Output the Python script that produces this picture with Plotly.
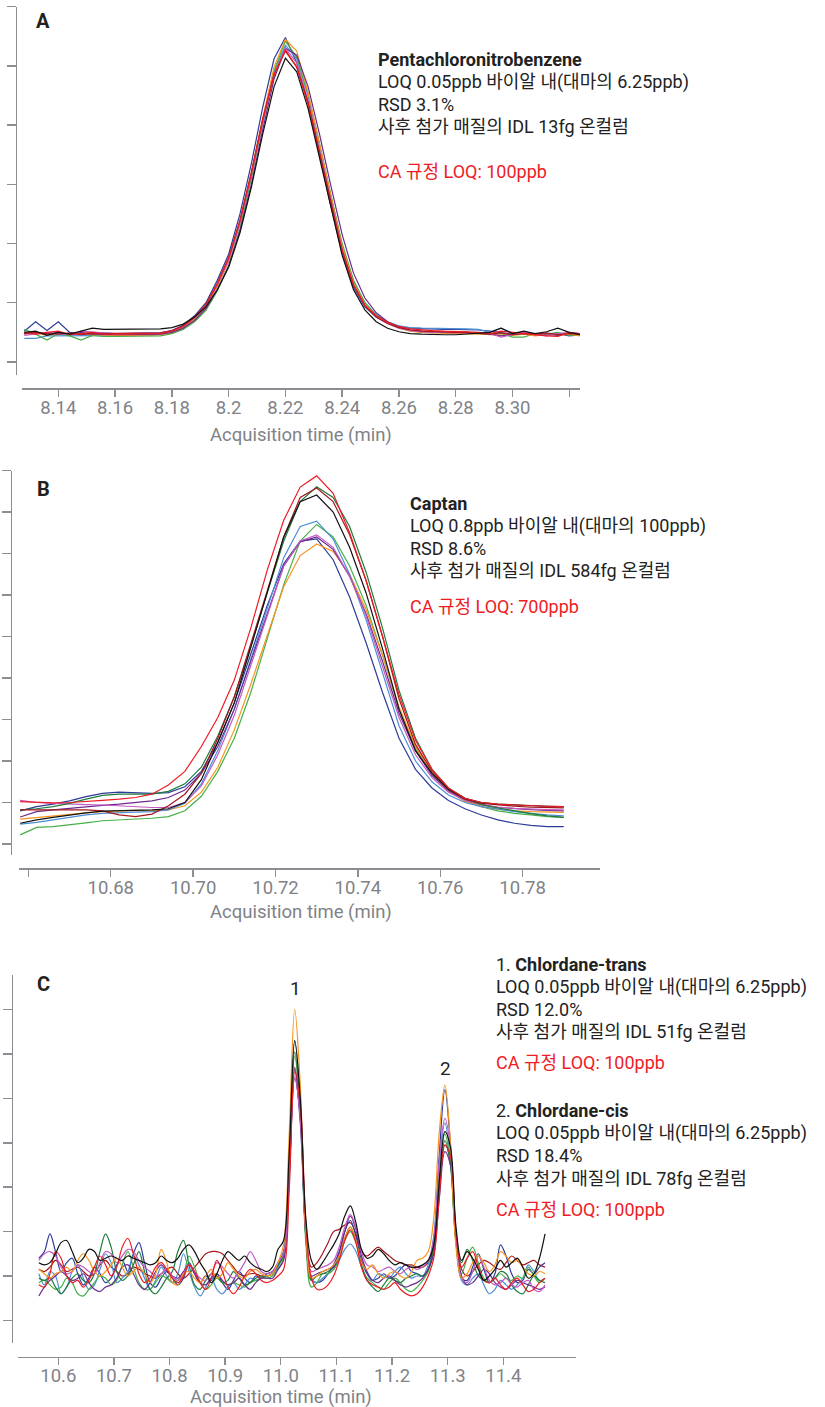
import plotly.graph_objects as go

# ---------------- DATA ----------------
COLORS = {"navy": "#2e3b98", "lightblue": "#4c8fd6", "green": "#45b045", "darkgreen": "#1e7b3c",
          "purple": "#6d2a8c", "magenta": "#c35bc3", "red": "#ec1c24", "darkred": "#a3181d",
          "orange": "#f7941d", "black": "#111111"}

# Panel A: Pentachloronitrobenzene
TIME_A = [8.128, 8.132, 8.136, 8.140, 8.144, 8.148, 8.152, 8.156, 8.160, 8.164,
          8.168, 8.172, 8.176, 8.180, 8.184, 8.188, 8.192, 8.196, 8.200, 8.204,
          8.208, 8.212, 8.216, 8.220, 8.224, 8.228, 8.232, 8.236, 8.240, 8.244,
          8.248, 8.252, 8.256, 8.260, 8.264, 8.268, 8.272, 8.276, 8.280, 8.284,
          8.288, 8.292, 8.296, 8.300, 8.304, 8.308, 8.312, 8.316, 8.320, 8.324]
navy_A = [0.52, 0.68, 0.53, 0.68, 0.50, 0.47, 0.49, 0.48, 0.48, 0.48,
          0.48, 0.48, 0.49, 0.53, 0.62, 0.78, 1.00, 1.38, 1.82, 2.50,
          3.35, 4.30, 5.12, 5.48, 5.05, 4.38, 3.52, 2.64, 1.84, 1.26,
          0.93, 0.76, 0.66, 0.60, 0.57, 0.56, 0.56, 0.55, 0.55, 0.55,
          0.54, 0.52, 0.50, 0.47, 0.50, 0.46, 0.45, 0.48, 0.44, 0.46]
orange_A = [0.47, 0.49, 0.45, 0.49, 0.47, 0.48, 0.46, 0.45, 0.45, 0.45,
            0.45, 0.45, 0.46, 0.50, 0.57, 0.72, 0.92, 1.27, 1.70, 2.36,
            3.20, 4.12, 4.98, 5.45, 5.25, 4.55, 3.68, 2.78, 1.95, 1.33,
            0.97, 0.77, 0.65, 0.57, 0.52, 0.50, 0.49, 0.48, 0.48, 0.48,
            0.47, 0.47, 0.46, 0.45, 0.47, 0.44, 0.46, 0.45, 0.47, 0.44]
green_A = [0.55, 0.47, 0.37, 0.48, 0.44, 0.37, 0.45, 0.43, 0.43, 0.43,
           0.43, 0.43, 0.44, 0.48, 0.55, 0.68, 0.87, 1.20, 1.62, 2.25,
           3.10, 4.05, 4.92, 5.42, 5.15, 4.52, 3.70, 2.82, 2.00, 1.38,
           1.00, 0.79, 0.66, 0.58, 0.53, 0.51, 0.50, 0.49, 0.49, 0.48,
           0.48, 0.46, 0.48, 0.42, 0.42, 0.48, 0.47, 0.50, 0.45, 0.47]
lightblue_A = [0.40, 0.40, 0.44, 0.44, 0.44, 0.44, 0.45, 0.45, 0.45, 0.45,
               0.45, 0.45, 0.46, 0.50, 0.58, 0.73, 0.93, 1.28, 1.70, 2.33,
               3.15, 4.05, 4.90, 5.35, 5.12, 4.50, 3.65, 2.78, 1.97, 1.36,
               1.00, 0.80, 0.68, 0.61, 0.58, 0.57, 0.57, 0.56, 0.56, 0.56,
               0.55, 0.50, 0.57, 0.49, 0.50, 0.47, 0.46, 0.47, 0.46, 0.45]
purple_A = [0.48, 0.50, 0.47, 0.50, 0.46, 0.50, 0.47, 0.46, 0.46, 0.46,
            0.46, 0.46, 0.47, 0.50, 0.57, 0.70, 0.90, 1.22, 1.62, 2.22,
            3.00, 3.92, 4.78, 5.30, 5.18, 4.65, 3.85, 2.98, 2.15, 1.50,
            1.08, 0.83, 0.68, 0.59, 0.54, 0.52, 0.51, 0.50, 0.50, 0.50,
            0.49, 0.47, 0.44, 0.47, 0.49, 0.46, 0.48, 0.45, 0.49, 0.48]
magenta_A = [0.45, 0.47, 0.50, 0.48, 0.46, 0.52, 0.50, 0.49, 0.48, 0.48,
             0.48, 0.48, 0.49, 0.52, 0.60, 0.75, 0.95, 1.30, 1.72, 2.35,
             3.15, 4.05, 4.85, 5.30, 5.05, 4.42, 3.58, 2.70, 1.90, 1.30,
             0.95, 0.76, 0.65, 0.57, 0.53, 0.51, 0.50, 0.49, 0.49, 0.49,
             0.48, 0.48, 0.42, 0.46, 0.50, 0.47, 0.44, 0.48, 0.50, 0.47]
red_A = [0.50, 0.47, 0.50, 0.52, 0.46, 0.48, 0.50, 0.47, 0.47, 0.47,
         0.47, 0.47, 0.48, 0.52, 0.60, 0.75, 0.96, 1.32, 1.75, 2.38,
         3.18, 4.08, 4.85, 5.27, 4.98, 4.35, 3.50, 2.65, 1.88, 1.30,
         0.96, 0.78, 0.67, 0.60, 0.56, 0.54, 0.53, 0.52, 0.52, 0.51,
         0.50, 0.48, 0.52, 0.50, 0.47, 0.46, 0.44, 0.43, 0.50, 0.48]
darkred_A = [0.48, 0.50, 0.48, 0.47, 0.49, 0.46, 0.48, 0.48, 0.48, 0.48,
             0.48, 0.48, 0.49, 0.53, 0.61, 0.76, 0.97, 1.33, 1.76, 2.40,
             3.20, 4.10, 4.85, 5.25, 4.98, 4.38, 3.55, 2.68, 1.88, 1.30,
             0.95, 0.76, 0.65, 0.58, 0.54, 0.52, 0.51, 0.50, 0.50, 0.50,
             0.49, 0.47, 0.49, 0.46, 0.48, 0.47, 0.49, 0.46, 0.48, 0.47]
black_A = [0.50, 0.52, 0.45, 0.50, 0.47, 0.52, 0.57, 0.55, 0.55, 0.55,
           0.55, 0.55, 0.56, 0.58, 0.64, 0.76, 0.93, 1.22, 1.60, 2.18,
           2.95, 3.85, 4.65, 5.13, 4.90, 4.28, 3.45, 2.60, 1.80, 1.22,
           0.88, 0.68, 0.57, 0.51, 0.48, 0.47, 0.46, 0.46, 0.46, 0.47,
           0.48, 0.50, 0.57, 0.48, 0.52, 0.48, 0.51, 0.57, 0.50, 0.46]
SERIES_A = {"navy": navy_A, "lightblue": lightblue_A, "green": green_A, "orange": orange_A,
            "purple": purple_A, "magenta": magenta_A, "darkred": darkred_A, "red": red_A, "black": black_A}

# Panel B: Captan
TIME_B = [10.658, 10.662, 10.666, 10.670, 10.674, 10.678, 10.682, 10.686, 10.690, 10.694,
          10.698, 10.702, 10.706, 10.710, 10.714, 10.718, 10.722, 10.726, 10.730, 10.734,
          10.738, 10.742, 10.746, 10.750, 10.754, 10.758, 10.762, 10.766, 10.770, 10.774,
          10.778, 10.782, 10.786, 10.790]
red_B = [1.02, 1.00, 0.99, 1.00, 1.02, 1.05, 1.08, 1.12, 1.20, 1.42,
         1.75, 2.35, 3.05, 3.95, 5.20, 6.60, 7.80, 8.60, 8.87, 8.45,
         7.50, 6.35, 5.00, 3.60, 2.50, 1.80, 1.35, 1.10, 1.00, 0.96,
         0.94, 0.92, 0.91, 0.90]
darkred_B = [0.82, 0.82, 0.82, 0.82, 0.82, 0.80, 0.70, 0.66, 0.72, 0.92,
             1.20, 1.70, 2.55, 3.55, 4.80, 6.10, 7.40, 8.35, 8.58, 8.25,
             7.45, 6.35, 5.00, 3.50, 2.40, 1.75, 1.32, 1.08, 0.98, 0.94,
             0.91, 0.89, 0.88, 0.87]
darkgreen_B = [0.82, 0.85, 0.90, 0.98, 1.08, 1.17, 1.20, 1.20, 1.20, 1.27,
               1.45, 1.85, 2.60, 3.55, 4.75, 6.05, 7.30, 8.25, 8.61, 8.35,
               7.65, 6.55, 5.20, 3.70, 2.55, 1.80, 1.35, 1.10, 0.95, 0.87,
               0.80, 0.73, 0.68, 0.64]
black_B = [0.50, 0.58, 0.64, 0.70, 0.75, 0.79, 0.80, 0.81, 0.82, 0.85,
           1.00, 1.55, 2.45, 3.40, 4.75, 6.05, 7.40, 8.25, 8.41, 8.00,
           7.15, 6.05, 4.70, 3.25, 2.25, 1.70, 1.32, 1.10, 1.00, 0.96,
           0.94, 0.92, 0.91, 0.90]
lightblue_B = [0.48, 0.52, 0.58, 0.64, 0.70, 0.74, 0.76, 0.77, 0.78, 0.82,
               0.98, 1.45, 2.25, 3.25, 4.45, 5.70, 6.90, 7.65, 7.78, 7.35,
               6.50, 5.40, 4.10, 2.85, 2.00, 1.50, 1.18, 1.00, 0.90, 0.84,
               0.78, 0.74, 0.70, 0.68]
green_B = [0.22, 0.40, 0.42, 0.46, 0.51, 0.56, 0.58, 0.60, 0.62, 0.66,
           0.80, 1.15, 1.75, 2.55, 3.65, 4.95, 6.25, 7.30, 7.70, 7.40,
           6.70, 5.75, 4.55, 3.25, 2.30, 1.70, 1.30, 1.05, 0.90, 0.80,
           0.74, 0.70, 0.66, 0.64]
magenta_B = [1.05, 1.00, 0.98, 0.96, 0.95, 0.94, 0.92, 0.90, 0.88, 0.88,
             1.00, 1.40, 2.15, 3.10, 4.30, 5.55, 6.70, 7.30, 7.45, 7.15,
             6.45, 5.50, 4.30, 3.05, 2.15, 1.60, 1.25, 1.05, 0.95, 0.89,
             0.86, 0.84, 0.83, 0.82]
purple_B = [0.65, 0.78, 0.82, 0.86, 0.90, 0.93, 0.96, 1.00, 1.04, 1.12,
            1.30, 1.70, 2.35, 3.25, 4.40, 5.60, 6.70, 7.28, 7.40, 7.10,
            6.45, 5.55, 4.40, 3.15, 2.25, 1.65, 1.28, 1.06, 0.95, 0.88,
            0.85, 0.83, 0.81, 0.80]
navy_B = [0.80, 0.90, 0.96, 1.04, 1.14, 1.22, 1.25, 1.24, 1.22, 1.24,
          1.38, 1.75, 2.45, 3.40, 4.55, 5.75, 6.75, 7.30, 7.35, 6.85,
          5.95, 4.85, 3.65, 2.55, 1.80, 1.35, 1.05, 0.85, 0.70, 0.58,
          0.50, 0.45, 0.42, 0.42]
orange_B = [0.60, 0.64, 0.68, 0.72, 0.75, 0.78, 0.80, 0.81, 0.80, 0.82,
            0.92, 1.25, 1.85, 2.75, 3.85, 5.05, 6.20, 6.95, 7.23, 7.05,
            6.50, 5.65, 4.55, 3.30, 2.35, 1.70, 1.28, 1.02, 0.90, 0.84,
            0.80, 0.78, 0.77, 0.76]
SERIES_B = {"green": green_B, "navy": navy_B, "orange": orange_B, "lightblue": lightblue_B,
            "purple": purple_B, "magenta": magenta_B, "darkgreen": darkgreen_B,
            "darkred": darkred_B, "black": black_B, "red": red_B}

# Panel C: Chlordane-trans / Chlordane-cis
TIME_C = [10.565, 10.575, 10.585, 10.595, 10.605, 10.615, 10.625, 10.635, 10.645, 10.655,
          10.665, 10.675, 10.685, 10.695, 10.705, 10.715, 10.725, 10.735, 10.745, 10.755,
          10.765, 10.775, 10.785, 10.795, 10.805, 10.815, 10.825, 10.835, 10.845, 10.855,
          10.865, 10.875, 10.885, 10.895, 10.905, 10.915, 10.925, 10.935, 10.945, 10.955,
          10.965, 10.975, 10.985, 10.995, 11.005, 11.015, 11.025, 11.035, 11.045, 11.055,
          11.065, 11.075, 11.085, 11.095, 11.105, 11.115, 11.125, 11.135, 11.145, 11.155,
          11.165, 11.175, 11.185, 11.195, 11.205, 11.215, 11.225, 11.235, 11.245, 11.255,
          11.265, 11.275, 11.285, 11.295, 11.305, 11.315, 11.325, 11.335, 11.345, 11.355,
          11.365, 11.375, 11.385, 11.395, 11.405, 11.415, 11.425, 11.435, 11.445, 11.455,
          11.465, 11.475]
navy_C = [1.40, 1.55, 1.95, 1.55, 1.10, 1.30, 1.40, 1.05, 0.80, 0.95,
          1.20, 1.05, 0.85, 0.95, 1.25, 1.35, 1.10, 1.50, 1.75, 1.30,
          0.85, 0.75, 0.95, 1.10, 0.95, 0.80, 0.95, 1.30, 1.05, 0.85,
          1.00, 0.90, 1.05, 0.85, 0.70, 0.90, 1.10, 0.95, 0.85, 1.00,
          0.95, 1.05, 1.10, 1.30, 1.55, 3.35, 5.65, 4.45, 1.90, 0.90,
          0.85, 0.90, 1.05, 1.25, 1.55, 2.00, 2.25, 1.90, 1.35, 1.05,
          0.90, 0.95, 1.05, 0.95, 1.00, 1.15, 1.25, 1.10, 1.05, 1.00,
          1.15, 1.75, 3.75, 5.20, 3.95, 1.85, 0.95, 0.90, 1.20, 1.50,
          1.15, 0.85, 1.05, 1.70, 1.45, 1.05, 0.85, 0.90, 1.15, 1.05,
          1.20, 1.30]
black_C = [1.30, 1.25, 1.30, 1.50, 1.75, 1.80, 1.55, 1.30, 1.40, 1.60,
           1.55, 1.35, 1.40, 1.45, 1.40, 1.35, 1.45, 1.40, 1.35, 1.30,
           1.25, 1.30, 1.45, 1.35, 1.30, 1.40, 1.60, 1.70, 1.55, 1.30,
           1.10, 0.85, 1.05, 1.35, 1.55, 1.45, 1.35, 1.45, 1.30, 1.20,
           1.15, 1.10, 1.20, 1.60, 1.80, 3.75, 6.30, 5.00, 2.30, 1.35,
           1.15, 1.30, 1.50, 1.70, 1.95, 2.35, 2.58, 2.20, 1.60, 1.40,
           1.45, 1.60, 1.50, 1.35, 1.25, 1.30, 1.25, 1.20, 1.20, 1.25,
           1.35, 1.70, 3.15, 4.25, 3.90, 2.10, 1.35, 1.55, 1.40, 1.15,
           0.90, 1.00, 1.15, 1.35, 1.20, 1.30, 1.40, 1.20, 0.95, 1.05,
           1.40, 1.95]
lightblue_C = [1.05, 0.80, 1.10, 1.00, 0.60, 0.75, 1.10, 1.25, 0.95, 0.70,
               0.80, 1.15, 1.50, 1.30, 0.85, 0.95, 1.10, 1.45, 1.25, 0.95,
               0.70, 0.90, 1.20, 1.00, 0.85, 1.05, 1.50, 1.10, 0.75, 0.55,
               0.75, 0.95, 0.70, 0.60, 0.75, 0.85, 0.70, 0.80, 0.95, 0.90,
               0.95, 1.00, 1.05, 1.20, 1.50, 3.60, 6.30, 5.05, 2.10, 0.95,
               0.85, 0.95, 1.05, 1.15, 1.35, 1.60, 1.72, 1.55, 1.20, 0.95,
               0.90, 1.05, 1.00, 0.95, 1.10, 1.20, 1.05, 0.95, 1.00, 1.00,
               1.25, 1.90, 3.55, 4.45, 3.60, 1.75, 0.90, 0.80, 0.95, 1.05,
               0.80, 0.60, 0.70, 0.90, 0.80, 0.70, 0.80, 0.95, 1.25, 1.10,
               0.90, 0.95]
green_C = [0.85, 0.90, 0.80, 0.70, 0.75, 0.95, 0.85, 0.60, 0.55, 0.70,
           0.85, 1.00, 0.95, 0.80, 0.90, 1.25, 1.55, 1.20, 0.85, 0.70,
           0.70, 0.85, 1.00, 0.95, 0.85, 0.90, 1.05, 1.45, 1.20, 0.85,
           0.70, 0.80, 0.95, 0.85, 0.80, 0.85, 0.80, 0.75, 0.85, 0.90,
           0.95, 0.95, 1.00, 1.15, 1.40, 3.40, 5.95, 4.70, 1.75, 0.75,
           0.85, 1.05, 1.05, 1.15, 1.40, 1.80, 2.00, 1.75, 1.25, 0.95,
           0.85, 0.75, 0.70, 0.85, 0.95, 0.85, 0.70, 0.65, 0.75, 0.90,
           1.10, 1.60, 3.25, 4.20, 3.55, 1.75, 1.05, 1.40, 1.65, 1.30,
           0.95, 0.85, 0.95, 1.05, 0.95, 0.90, 1.00, 0.95, 1.20, 1.00,
           0.85, 0.95]
darkgreen_C = [0.95, 0.90, 0.95, 0.75, 0.60, 0.75, 0.95, 1.05, 0.90, 0.85,
               1.05, 1.55, 1.95, 1.65, 1.10, 0.90, 1.00, 1.25, 1.55, 1.10,
               0.70, 0.60, 0.75, 0.95, 1.10, 1.55, 1.80, 1.25, 0.80, 0.70,
               0.90, 1.05, 1.00, 0.85, 0.90, 1.10, 0.95, 0.80, 0.85, 0.95,
               1.00, 1.00, 1.05, 1.25, 1.45, 3.50, 6.05, 4.80, 1.90, 0.90,
               1.00, 1.05, 1.10, 1.20, 1.45, 1.85, 2.10, 1.80, 1.25, 0.90,
               0.75, 0.65, 0.80, 0.95, 0.90, 0.85, 0.95, 1.00, 1.05, 1.00,
               1.15, 1.65, 3.10, 4.05, 3.50, 1.80, 1.30, 1.60, 1.35, 1.00,
               0.90, 0.85, 0.95, 1.10, 1.05, 0.80, 0.65, 0.60, 0.80, 1.00,
               0.90, 0.85]
purple_C = [0.55, 0.75, 0.90, 1.00, 1.10, 1.00, 0.90, 0.95, 1.05, 0.85,
            0.70, 0.65, 0.75, 0.80, 0.95, 1.20, 1.25, 1.05, 0.80, 0.70,
            0.85, 1.10, 1.25, 1.10, 1.00, 0.95, 1.10, 1.25, 1.05, 0.85,
            0.80, 0.95, 1.05, 0.90, 0.80, 0.85, 0.95, 0.80, 0.70, 0.85,
            0.95, 0.95, 0.95, 1.15, 1.35, 3.15, 5.45, 4.60, 1.95, 1.00,
            1.05, 1.10, 1.15, 1.20, 1.50, 2.00, 2.35, 2.05, 1.45, 1.10,
            0.90, 0.85, 0.95, 1.00, 0.90, 0.80, 0.75, 0.80, 0.85, 0.95,
            1.15, 1.50, 2.75, 3.80, 3.50, 1.90, 1.00, 0.80, 0.85, 1.00,
            1.15, 1.05, 0.85, 0.75, 0.70, 0.80, 0.90, 0.85, 0.80, 0.75,
            0.70, 0.75]
magenta_C = [1.35, 1.50, 1.55, 1.45, 1.20, 1.05, 1.10, 1.25, 1.20, 1.10,
             1.05, 1.30, 1.55, 1.50, 1.30, 1.45, 1.60, 1.55, 1.35, 1.20,
             1.10, 1.00, 1.05, 1.15, 1.00, 0.90, 1.05, 1.25, 1.10, 0.95,
             0.90, 1.05, 1.30, 1.20, 1.05, 0.95, 1.10, 1.30, 1.55, 1.35,
             1.10, 1.05, 1.10, 1.30, 1.50, 3.25, 5.50, 4.55, 2.00, 1.10,
             1.15, 1.20, 1.25, 1.35, 1.65, 2.10, 2.38, 2.10, 1.55, 1.25,
             1.20, 1.10, 1.15, 1.20, 1.10, 1.05, 1.15, 1.20, 1.15, 1.20,
             1.35, 1.85, 3.60, 4.55, 3.90, 1.85, 0.95, 0.85, 1.10, 1.45,
             1.20, 0.90, 0.80, 0.85, 0.95, 0.80, 0.75, 0.85, 0.90, 0.70,
             0.65, 0.80]
red_C = [0.80, 0.75, 1.05, 1.55, 1.40, 1.00, 0.85, 0.90, 0.75, 0.90,
         1.20, 1.45, 1.25, 1.00, 1.20, 1.65, 1.85, 1.50, 1.05, 0.85,
         0.95, 1.20, 1.30, 1.15, 0.95, 0.85, 1.00, 1.25, 1.10, 0.85,
         0.70, 0.95, 1.35, 1.10, 0.75, 0.60, 0.75, 1.00, 1.15, 1.05,
         0.90, 0.85, 0.90, 1.00, 1.15, 2.90, 5.60, 4.85, 2.20, 0.95,
         0.70, 0.70, 0.80, 1.00, 1.35, 1.80, 2.04, 1.75, 1.20, 0.90,
         0.80, 0.75, 0.70, 0.75, 0.85, 0.70, 0.60, 0.55, 0.60, 0.75,
         1.00, 1.40, 2.80, 3.95, 3.70, 1.95, 1.20, 1.40, 1.55, 1.20,
         0.90, 0.85, 0.95, 0.80, 0.70, 0.85, 0.95, 0.80, 0.65, 0.70,
         0.85, 0.95]
orange_C = [1.15, 1.05, 0.95, 1.05, 1.10, 1.20, 1.10, 1.35, 1.50, 1.35,
            1.10, 1.00, 1.10, 1.25, 1.40, 1.20, 1.00, 1.10, 1.20, 1.05,
            0.85, 1.05, 1.60, 1.30, 0.85, 0.80, 1.05, 1.10, 0.95, 0.85,
            1.00, 1.15, 0.95, 1.05, 1.30, 1.15, 1.00, 0.95, 1.10, 1.15,
            1.05, 1.00, 1.05, 1.30, 1.70, 4.15, 7.00, 5.30, 2.00, 0.95,
            1.00, 1.10, 1.15, 1.25, 1.45, 1.85, 2.10, 1.80, 1.30, 1.15,
            1.25, 1.05, 0.95, 1.05, 1.10, 1.00, 0.95, 1.10, 1.35, 1.40,
            1.55, 2.30, 4.25, 5.30, 4.00, 1.65, 0.95, 1.05, 1.30, 1.45,
            1.30, 1.10, 1.25, 1.55, 1.45, 1.30, 1.35, 1.20, 1.05, 1.00,
            1.10, 1.05]
darkred_C = [1.15, 1.10, 1.20, 1.35, 1.25, 1.10, 1.15, 1.20, 1.10, 1.00,
             1.05, 1.25, 1.35, 1.20, 1.10, 1.00, 1.05, 1.20, 1.15, 1.05,
             1.00, 0.95, 1.05, 1.15, 1.20, 1.05, 0.95, 1.05, 1.20, 1.35,
             1.50, 1.55, 1.55, 1.50, 1.35, 1.20, 1.05, 1.00, 1.05, 1.05,
             1.00, 1.00, 1.05, 1.25, 1.50, 3.20, 5.70, 4.70, 2.10, 1.20,
             1.30, 1.50, 1.75, 2.00, 2.05, 2.15, 2.20, 1.95, 1.55, 1.45,
             1.55, 1.65, 1.55, 1.45, 1.35, 1.30, 1.25, 1.25, 1.20, 1.20,
             1.30, 1.65, 2.95, 3.95, 3.60, 1.95, 1.15, 1.00, 1.10, 1.25,
             1.35, 1.30, 1.20, 1.15, 1.30, 1.45, 1.35, 1.25, 1.30, 1.35,
             1.25, 1.20]
SERIES_C = {"darkred": darkred_C, "navy": navy_C, "lightblue": lightblue_C, "green": green_C,
            "darkgreen": darkgreen_C, "purple": purple_C, "magenta": magenta_C,
            "orange": orange_C, "red": red_C, "black": black_C}

TICKS_A = [8.14, 8.16, 8.18, 8.20, 8.22, 8.24, 8.26, 8.28, 8.30, 8.32]
TICKTEXT_A = ["8.14", "8.16", "8.18", "8.2", "8.22", "8.24", "8.26", "8.28", "8.30", ""]
TICKS_B = [10.66, 10.68, 10.70, 10.72, 10.74, 10.76, 10.78]
TICKTEXT_B = ["", "10.68", "10.70", "10.72", "10.74", "10.76", "10.78"]
TICKS_C = [10.6, 10.7, 10.8, 10.9, 11.0, 11.1, 11.2, 11.3, 11.4]
TICKTEXT_C = ["10.6", "10.7", "10.8", "10.9", "11.0", "11.1", "11.2", "11.3", "11.4"]
YTICKS_A = [0, 1, 2, 3, 4, 5, 6]
YTICKS_B = [0, 1, 2, 3, 4, 5, 6, 7, 8, 9]
YTICKS_C = [0, 1, 2, 3, 4, 5, 6, 7]

X_TITLE = "Acquisition time (min)"
TEXT_A = ["<b>Pentachloronitrobenzene</b>", "LOQ 0.05ppb 바이알 내(대마의 6.25ppb)", "RSD 3.1%",
          "사후 첨가 매질의 IDL 13fg 온컬럼"]
RED_A = "CA 규정 LOQ: 100ppb"
TEXT_B = ["<b>Captan</b>", "LOQ 0.8ppb 바이알 내(대마의 100ppb)", "RSD 8.6%",
          "사후 첨가 매질의 IDL 584fg 온컬럼"]
RED_B = "CA 규정 LOQ: 700ppb"
TEXT_C1 = ["1. <b>Chlordane-trans</b>", "LOQ 0.05ppb 바이알 내(대마의 6.25ppb)", "RSD 12.0%",
           "사후 첨가 매질의 IDL 51fg 온컬럼"]
RED_C1 = "CA 규정 LOQ: 100ppb"
TEXT_C2 = ["2. <b>Chlordane-cis</b>", "LOQ 0.05ppb 바이알 내(대마의 6.25ppb)", "RSD 18.4%",
           "사후 첨가 매질의 IDL 78fg 온컬럼"]
RED_C2 = "CA 규정 LOQ: 100ppb"

# ---------------- FIGURE ----------------
W, H = 825, 1407
def px(x):
    return x / W
def py(y):
    return 1 - y / H

for t, ser in ((TIME_A, SERIES_A), (TIME_B, SERIES_B), (TIME_C, SERIES_C)):
    for k, v in ser.items():
        assert len(v) == len(t), (k, len(v), len(t))

fig = go.Figure()
for axid, t, ser, shape in (("", TIME_A, SERIES_A, "linear"), ("2", TIME_B, SERIES_B, "linear"),
                            ("3", TIME_C, SERIES_C, "spline")):
    for name, vals in ser.items():
        fig.add_trace(go.Scatter(x=t, y=vals, mode="lines", name=name,
                                 line=dict(color=COLORS[name], width=1.2, shape=shape),
                                 xaxis="x" + axid, yaxis="y" + axid, showlegend=False,
                                 hoverinfo="skip"))

AX = "#8b8e92"
FONT = "Roboto, 'Noto Sans CJK KR', sans-serif"
TICKFONT = dict(family=FONT, size=18.5, color="#7f8287")

def xaxis(dom, rng, pos, tv, tt):
    return dict(domain=dom, range=rng, anchor="free", position=pos, showline=True,
                linecolor=AX, linewidth=1.4, ticks="outside", ticklen=7, tickwidth=1.4,
                tickcolor=AX, tickvals=tv, ticktext=tt, tickfont=TICKFONT,
                ticklabelstandoff=-5,
                showgrid=False, zeroline=False, fixedrange=True)

def yaxis(dom, rng, pos, tv):
    return dict(domain=dom, range=rng, anchor="free", position=pos, showline=True,
                linecolor=AX, linewidth=1.4, ticks="outside", ticklen=9, tickwidth=1.4,
                tickcolor=AX, tickvals=tv, showticklabels=False,
                showgrid=False, zeroline=False, fixedrange=True)

fig.update_layout(
    width=W, height=H, margin=dict(l=0, r=0, t=0, b=0),
    paper_bgcolor="white", plot_bgcolor="white", showlegend=False,
    font=dict(family=FONT, color="#222222"),
    xaxis=xaxis([px(22.3), px(580)], [8.1273, 8.3238], py(388.3), TICKS_A, TICKTEXT_A),
    yaxis=yaxis([py(375), py(6.7)], [-0.22, 6.0], px(16), YTICKS_A),
    xaxis2=xaxis([px(18.5), px(600)], [10.6576, 10.7988], py(868.3), TICKS_B, TICKTEXT_B),
    yaxis2=yaxis([py(855), py(470.5)], [-0.265, 9.0], px(11), YTICKS_B),
    xaxis3=xaxis([px(18.3), px(576)], [10.5281, 11.5307], py(1356.7), TICKS_C, TICKTEXT_C),
    yaxis3=yaxis([py(1343), py(975)], [-0.51, 7.78], px(12), YTICKS_C),
)

ann = []
def text(x, y, s, size=18, color="#222222", anchor="left"):
    ann.append(dict(x=px(x), y=py(y), xref="paper", yref="paper", text=s, showarrow=False,
                    xanchor=anchor, yanchor="middle", borderpad=0,
                    font=dict(family=FONT, size=size, color=color)))

# panel letters
text(43, 21, "<b>A</b>", size=20, anchor="center")
text(43, 489, "<b>B</b>", size=20, anchor="center")
text(43, 984, "<b>C</b>", size=20, anchor="center")
# peak labels
text(295, 988, "1", size=19, anchor="center")
text(445, 1068, "2", size=19, anchor="center")
# axis titles
TITLE_COLOR = "#7f8287"
text(301, 435, X_TITLE, size=18.5, color=TITLE_COLOR, anchor="center")
text(301, 911.7, X_TITLE, size=18.5, color=TITLE_COLOR, anchor="center")
text(281, 1396.5, X_TITLE, size=18.5, color=TITLE_COLOR, anchor="center")

RED = "#ee1c25"
for lines, red, x0, ys, yred in ((TEXT_A, RED_A, 377, [59.3, 81.7, 104, 126.7], 171.7),
                                 (TEXT_B, RED_B, 409, [503.3, 525.7, 548.3, 570.5], 606.7),
                                 (TEXT_C1, RED_C1, 495, [964, 986.5, 1009, 1031.5], 1062),
                                 (TEXT_C2, RED_C2, 495, [1110.5, 1133, 1155.5, 1178], 1209.5)):
    for s, y in zip(lines, ys):
        text(x0, y, s)
    text(x0, yred, red, color=RED)

fig.update_layout(annotations=ann)
fig.write_html("out.html", config={"displayModeBar": False, "staticPlot": True},
               post_script="document.body.style.margin='0px';document.body.style.overflow='hidden';")
